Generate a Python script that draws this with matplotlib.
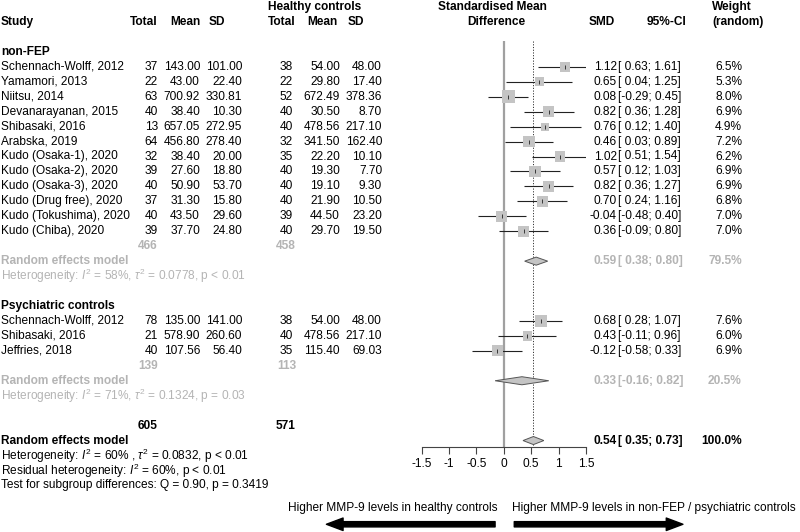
import matplotlib
matplotlib.use("Agg")
from matplotlib import pyplot as plt
from matplotlib import transforms

plt.rcParams['font.family'] = ['Liberation Sans', 'DejaVu Sans']
plt.rcParams['mathtext.fontset'] = 'custom'
plt.rcParams['mathtext.rm'] = 'Liberation Sans'
plt.rcParams['mathtext.it'] = 'Liberation Sans:italic'
plt.rcParams['font.size'] = 8.6

# non-FEP vs healthy controls
names_1 = ["Schennach-Wolff, 2012", "Yamamori, 2013", "Niitsu, 2014", "Devanarayanan, 2015",
           "Shibasaki, 2016", "Arabska, 2019", "Kudo (Osaka-1), 2020", "Kudo (Osaka-2), 2020",
           "Kudo (Osaka-3), 2020", "Kudo (Drug free), 2020", "Kudo (Tokushima), 2020", "Kudo (Chiba), 2020"]
n_e_1 = [37, 22, 63, 40, 13, 64, 32, 39, 40, 37, 40, 39]
mean_e_1 = [143.00, 43.00, 700.92, 38.40, 657.05, 456.80, 38.40, 27.60, 50.90, 31.30, 43.50, 37.70]
sd_e_1 = [101.00, 22.40, 330.81, 10.30, 272.95, 278.40, 20.00, 18.80, 53.70, 15.80, 29.60, 24.80]
n_c_1 = [38, 22, 52, 40, 40, 32, 35, 40, 40, 40, 39, 40]
mean_c_1 = [54.00, 29.80, 672.49, 30.50, 478.56, 341.50, 22.20, 19.30, 19.10, 21.90, 44.50, 29.70]
sd_c_1 = [48.00, 17.40, 378.36, 8.70, 217.10, 162.40, 10.10, 7.70, 9.30, 10.50, 23.20, 19.50]
smd_1 = [1.12, 0.65, 0.08, 0.82, 0.76, 0.46, 1.02, 0.57, 0.82, 0.70, -0.04, 0.36]
lo_1 = [0.63, 0.04, -0.29, 0.36, 0.12, 0.03, 0.51, 0.12, 0.36, 0.24, -0.48, -0.09]
hi_1 = [1.61, 1.25, 0.45, 1.28, 1.40, 0.89, 1.54, 1.03, 1.27, 1.16, 0.40, 0.80]
w_1 = [6.5, 5.3, 8.0, 6.9, 4.9, 7.2, 6.2, 6.9, 6.9, 6.8, 7.0, 7.0]

# psychiatric controls vs healthy controls
names_2 = ["Schennach-Wolff, 2012", "Shibasaki, 2016", "Jeffries, 2018"]
n_e_2 = [78, 21, 40]
mean_e_2 = [135.00, 578.90, 107.56]
sd_e_2 = [141.00, 260.60, 56.40]
n_c_2 = [38, 40, 35]
mean_c_2 = [54.00, 478.56, 115.40]
sd_c_2 = [48.00, 217.10, 69.03]
smd_2 = [0.68, 0.43, -0.12]
lo_2 = [0.28, -0.11, -0.58]
hi_2 = [1.07, 0.96, 0.33]
w_2 = [7.6, 6.0, 6.9]

# pooled estimates: non-FEP, psychiatric, overall
pooled_smd = [0.59, 0.33, 0.54]
pooled_lo = [0.38, -0.16, 0.35]
pooled_hi = [0.80, 0.82, 0.73]
pooled_w = [79.5, 20.5, 100.0]
totals_e = [466, 139, 605]
totals_c = [458, 113, 571]
het_text = [r"Heterogeneity: $I^2$ = 58%, $\tau^2$ = 0.0778, p < 0.01",
            r"Heterogeneity: $I^2$ = 71%, $\tau^2$ = 0.1324, p = 0.03",
            r"Heterogeneity: $I^2$ = 60% , $\tau^2$ = 0.0832, p < 0.01"]

W, H = 800, 532
GRAY = '#b4b4b4'
fig = plt.figure(figsize=(W / 100, H / 100), dpi=100)
x0, x1 = 421.7, 586.0
ax = fig.add_axes([x0 / W, 0, (x1 - x0) / W, 1])
ax.set_xlim(-1.5, 1.5)
ax.set_ylim((H - 7) / 14.95, -7 / 14.95)
ax.patch.set_visible(False)
for s in ['top', 'left', 'right']:
    ax.spines[s].set_visible(False)
ax.spines['bottom'].set_position(('data', 29.43))
ax.spines['bottom'].set_bounds(-1.5, 1.5)
ax.spines['bottom'].set_color('#444444')
ax.spines['bottom'].set_linewidth(0.8)
ax.set_yticks([])
ax.set_xticks([-1.5, -1, -0.5, 0, 0.5, 1, 1.5])
ax.set_xticklabels(['-1.5', '-1', '-0.5', '0', '0.5', '1', '1.5'])
ax.tick_params(axis='x', direction='out', length=5, width=0.8, color='#444444', pad=3)

tr = transforms.blended_transform_factory(fig.transFigure, ax.transData)


def put(xpx, k, s, ha='left', **kw):
    fig.text(xpx / W, k, s, ha=ha, va='center', transform=tr, **kw)


# headers
put(1, 1, "Study", weight='bold')
put(157, 1, "Total", ha='right', weight='bold')
put(201, 1, "Mean", ha='right', weight='bold')
put(209, 1, "SD", weight='bold')
put(268, 0, "Healthy controls", weight='bold')
put(295, 1, "Total", ha='right', weight='bold')
put(338, 1, "Mean", ha='right', weight='bold')
put(348, 1, "SD", weight='bold')
put(492, 0, "Standardised Mean", ha='center', weight='bold')
put(496, 1, "Difference", ha='center', weight='bold')
put(615, 1, "SMD", ha='right', weight='bold')
put(647, 1, "95%-CI", weight='bold')
put(712, 0, "Weight", weight='bold')
put(712, 1, "(random)", weight='bold')

# reference lines
ax.vlines(0, 2.3, 29.43, color='#a0a0a0', lw=1.6)
ax.vlines(pooled_smd[2], 2.3, 29.43, color='#333333', lw=0.7, linestyles=(0, (1.2, 1.6)))

groups = [
    ("non-FEP", 3, names_1, n_e_1, mean_e_1, sd_e_1, n_c_1, mean_c_1, sd_c_1, smd_1, lo_1, hi_1, w_1),
    ("Psychiatric controls", 20, names_2, n_e_2, mean_e_2, sd_e_2, n_c_2, mean_c_2, sd_c_2, smd_2, lo_2, hi_2, w_2),
]

for g, (label, k0, names, ne, me, se, nc, mc, sc, smd, lo, hi, w) in enumerate(groups):
    put(1, k0, label, weight='bold')
    rows = [k0 + 1 + i for i in range(len(names))]
    for i, k in enumerate(rows):
        put(1, k, names[i])
        put(158, k, str(ne[i]), ha='right')
        put(200, k, f"{me[i]:.2f}", ha='right')
        put(242, k, f"{se[i]:.2f}", ha='right')
        put(293, k, str(nc[i]), ha='right')
        put(340, k, f"{mc[i]:.2f}", ha='right')
        put(382, k, f"{sc[i]:.2f}", ha='right')
        put(617, k, f"{smd[i]:.2f}", ha='right')
        put(618, k, f"[{lo[i]:5.2f}; {hi[i]:.2f}]")
        put(742, k, f"{w[i]:.1f}%", ha='right')
    ax.hlines(rows, lo, hi, color='#222222', lw=0.8, zorder=2)
    sizes = [(13 * wi / 8 * 0.72) ** 2 for wi in w]
    ax.scatter(smd, rows, s=sizes, marker='s', color='#c4c4c4', edgecolors='none', zorder=3)
    ax.scatter(smd, rows, s=12, marker='|', color='#222222', linewidths=0.6, zorder=4)

    kt = rows[-1] + 1
    put(158, kt, str(totals_e[g]), ha='right', weight='bold', color=GRAY)
    put(296, kt, str(totals_c[g]), ha='right', weight='bold', color=GRAY)
    put(1, kt + 1, "Random effects model", weight='bold', color=GRAY)
    put(1, kt + 2, het_text[g], color=GRAY)
    put(617, kt + 1, f"{pooled_smd[g]:.2f}", ha='right', weight='bold', color=GRAY)
    put(618, kt + 1, f"[{pooled_lo[g]:5.2f}; {pooled_hi[g]:.2f}]", weight='bold', color=GRAY)
    put(742, kt + 1, f"{pooled_w[g]:.1f}%", ha='right', weight='bold', color=GRAY)

# diamonds
diamond_rows = [17, 25, 29]
for j, k in enumerate(diamond_rows):
    ax.fill([pooled_lo[j], pooled_smd[j], pooled_hi[j], pooled_smd[j]],
            [k, k - 0.27, k, k + 0.27], facecolor='#c4c4c4', edgecolor='#555555', lw=0.7, zorder=3)

# overall
put(158, 28, str(totals_e[2]), ha='right', weight='bold')
put(296, 28, str(totals_c[2]), ha='right', weight='bold')
put(1, 29, "Random effects model", weight='bold')
put(617, 29, f"{pooled_smd[2]:.2f}", ha='right', weight='bold')
put(618, 29, f"[{pooled_lo[2]:5.2f}; {pooled_hi[2]:.2f}]", weight='bold')
put(742, 29, f"{pooled_w[2]:.1f}%", ha='right', weight='bold')
put(1, 30, het_text[2])
put(1, 31, r"Residual heterogeneity: $I^2$ = 60%, p < 0.01")
put(1, 32, "Test for subgroup differences: Q = 0.90, p = 0.3419")

# direction arrows
put(497, 33.5, "Higher MMP-9 levels in healthy controls", ha='right')
put(512, 33.5, "Higher MMP-9 levels in non-FEP / psychiatric controls")
arrow = dict(arrowstyle='simple,head_length=1.2,head_width=0.9,tail_width=0.38',
             mutation_scale=10, color='black', shrinkA=0, shrinkB=0)
ax.annotate('', xy=(-3.24, 34.6), xytext=(-0.16, 34.6), arrowprops=arrow, annotation_clip=False)
ax.annotate('', xy=(3.27, 34.6), xytext=(0.19, 34.6), arrowprops=arrow, annotation_clip=False)

fig.savefig("out.png", dpi=100)
